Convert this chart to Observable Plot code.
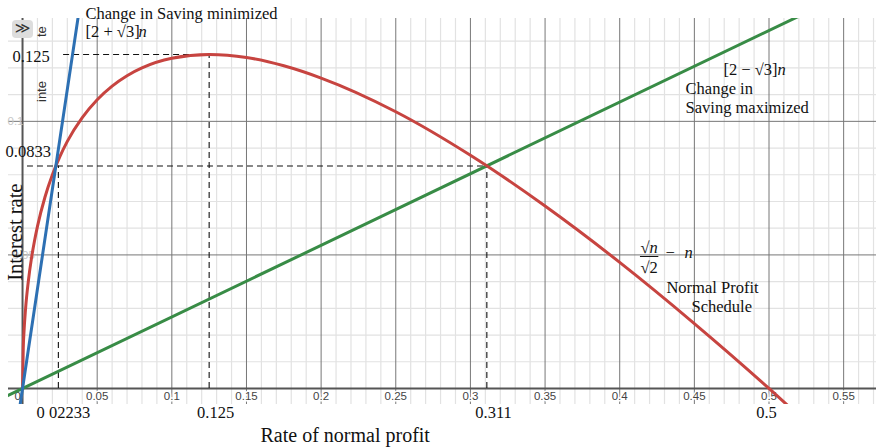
<!DOCTYPE html>
<html>
<head>
<meta charset="utf-8">
<script src="https://cdn.jsdelivr.net/npm/d3@7"></script>
<script src="https://cdn.jsdelivr.net/npm/@observablehq/plot@0.6"></script>
<style>
  html, body { margin: 0; padding: 0; background: white; }
  #wrap { position: relative; width: 876px; height: 447px; }
  .btn { position: absolute; left: 12px; top: 20px; width: 21px; height: 18px; background: #ddd; border-radius: 4px;
         font: 15px "DejaVu Sans", sans-serif; color: #333; text-align: center; line-height: 17px; }
  .rot { position: absolute; font: 13px "Liberation Sans", Arial, sans-serif; color: #333; transform: rotate(-90deg); transform-origin: left top; }
</style>
</head>
<body>
<div id="wrap"></div>
<script>
// Normal profit schedule (red): rate of normal profit n vs interest rate
const profitN = [0, 0.0005, 0.001, 0.002, 0.004, 0.006, 0.008, 0.01, 0.015, 0.02, 0.025, 0.03, 0.04, 0.05, 0.06, 0.07, 0.08, 0.1, 0.125, 0.15, 0.175, 0.2, 0.25, 0.3, 0.35, 0.4, 0.45, 0.5, 0.515];
const profitR = [0, 0.0153, 0.0214, 0.0296, 0.0407, 0.0488, 0.0552, 0.0607, 0.0716, 0.08, 0.0868, 0.0925, 0.1014, 0.1081, 0.1132, 0.1171, 0.12, 0.1236, 0.125, 0.1239, 0.1208, 0.1162, 0.1036, 0.0873, 0.0683, 0.0472, 0.0243, 0, -0.0076];
// Change in saving minimized (blue) [2+√3]n
const minN = [-0.002, 0.04];
const minR = [-0.0075, 0.1493];
// Change in saving maximized (green) [2−√3]n
const maxN = [-0.01, 0.55];
const maxR = [-0.0027, 0.1474];

// grid / ticks
const xMinor = [0.01,0.02,0.03,0.04,0.06,0.07,0.08,0.09,0.11,0.12,0.13,0.14,0.16,0.17,0.18,0.19,0.21,0.22,0.23,0.24,0.26,0.27,0.28,0.29,0.31,0.32,0.33,0.34,0.36,0.37,0.38,0.39,0.41,0.42,0.43,0.44,0.46,0.47,0.48,0.49,0.51,0.52,0.53,0.54,0.56,0.57];
const xMajor = [0.05,0.1,0.15,0.2,0.25,0.3,0.35,0.4,0.45,0.5,0.55];
const xMajorLabels = ["0.05","0.1","0.15","0.2","0.25","0.3","0.35","0.4","0.45","0.5","0.55"];
const yMinor = [0.01,0.02,0.03,0.04,0.06,0.07,0.08,0.09,0.11,0.12,0.13];
const yMajor = [0.05, 0.1];
const yMajorLabels = ["0.05", "0.1"];

// dashed guide lines
const dashH = [{y: 0.125, x1: 0.0275, x2: 0.1275}, {y: 0.0833, x1: 0.0033, x2: 0.311}];
const dashV = [{x: 0.024, y1: 0, y2: 0.0833}, {x: 0.125, y1: 0, y2: 0.125}, {x: 0.311, y1: 0, y2: 0.0833}];

// serif annotations
const notes = [
  {x: 0.0422, y: 0.1385, t: "Change in Saving minimized"},
  {x: 0.0422, y: 0.1314, t: "[2 + √3]"},
  {x: -0.0067, y: 0.1224, t: "0.125"},
  {x: -0.0114, y: 0.0865, t: "0.0833"},
  {x: 0.4695, y: 0.1172, t: "[2 − √3]"},
  {x: 0.4441, y: 0.1104, t: "Change in"},
  {x: 0.4441, y: 0.1033, t: "Saving maximized"},
  {x: 0.4313, y: 0.0356, t: "Normal Profit"},
  {x: 0.4481, y: 0.0285, t: "Schedule"},
  {x: 0.4139, y: 0.0431, t: "√2"},
  {x: 0.4306, y: 0.0490, t: "−"},
  {x: 0.0094, y: -0.0112, t: "0 02233"}
];
const italicN = [
  {x: 0.0777, y: 0.1314, t: "n"},
  {x: 0.5057, y: 0.1172, t: "n"},
  {x: 0.4434, y: 0.0490, t: "n"},
  {x: 0.4139, y: 0.0507, t: "√n"}
];
const centered = [
  {x: 0.1293, y: -0.0112, t: "0.125"},
  {x: 0.3155, y: -0.0112, t: "0.311"},
  {x: 0.4983, y: -0.0112, t: "0.5"}
];
const fracBar = [{y: 0.0494, x1: 0.4139, x2: 0.4262}];

const red = "#c74440", blue = "#2d70b3", green = "#388c46";
const serif = "Liberation Serif, Times New Roman, serif";

const profit = profitN.map((n, i) => ({n, r: profitR[i]}));
const minLine = minN.map((n, i) => ({n, r: minR[i]}));
const maxLine = maxN.map((n, i) => ({n, r: maxR[i]}));

const chart = Plot.plot({
  width: 876, height: 447,
  marginLeft: 8, marginRight: 0, marginTop: 18, marginBottom: 43,
  x: {domain: [-0.0094, 0.572], axis: null},
  y: {domain: [-0.006, 0.1385], axis: null},
  style: {background: "white", fontFamily: serif, overflow: "visible"},
  marks: [
    Plot.ruleX(xMinor, {x: d => d, stroke: "#e2e2e2", strokeWidth: 1.2}),
    Plot.ruleY(yMinor, {y: d => d, stroke: "#e2e2e2", strokeWidth: 1.2}),
    Plot.ruleX(xMajor, {x: d => d, stroke: "#777", strokeWidth: 1}),
    Plot.ruleY(yMajor, {y: d => d, stroke: "#777", strokeWidth: 1}),
    Plot.ruleX([0], {stroke: "#555", strokeWidth: 2}),
    Plot.ruleY([0], {stroke: "#555", strokeWidth: 2}),
    // desmos tick labels
    Plot.text(xMajor, {x: d => d, y: -0.0045, text: (d, i) => xMajorLabels[i], lineAnchor: "bottom",
      fontFamily: "Liberation Sans, Arial, sans-serif", fontSize: 11.5, fill: "#444", stroke: "white", strokeWidth: 3}),
    Plot.text([0], {x: -0.0033, y: -0.0045, text: () => "0", lineAnchor: "bottom",
      fontFamily: "Liberation Sans, Arial, sans-serif", fontSize: 11.5, fill: "#444", stroke: "white", strokeWidth: 3}),
    Plot.text(yMajor, {x: d => d === 0.1 ? -0.0047 : 0.0007, y: d => d, text: (d, i) => yMajorLabels[i],
      fontFamily: "Liberation Sans, Arial, sans-serif", fontSize: 11.5, fill: "#c8c8c8"}),
    // dashed guides
    Plot.ruleY(dashH, {y: "y", x1: "x1", x2: "x2", stroke: "#111", strokeWidth: 1.1, strokeDasharray: "6,4"}),
    Plot.ruleX(dashV, {x: "x", y1: "y1", y2: "y2", stroke: "#111", strokeWidth: 1.1, strokeDasharray: "6,4"}),
    // curves
    Plot.line(maxLine, {x: "n", y: "r", stroke: green, strokeWidth: 3, clip: true}),
    Plot.line(profit, {x: "n", y: "r", stroke: red, strokeWidth: 3, curve: "monotone-x", clip: true}),
    Plot.line(minLine, {x: "n", y: "r", stroke: blue, strokeWidth: 3, clip: true}),
    // annotations
    Plot.text(notes, {x: "x", y: "y", text: "t", textAnchor: "start", lineAnchor: "bottom", fontSize: 16.5, fill: "#111"}),
    Plot.text(italicN, {x: "x", y: "y", text: "t", textAnchor: "start", lineAnchor: "bottom", fontSize: 16.5, fontStyle: "italic", fill: "#111"}),
    Plot.ruleY(fracBar, {y: "y", x1: "x1", x2: "x2", stroke: "#111", strokeWidth: 1}),
    Plot.text(centered, {x: "x", y: "y", text: "t", lineAnchor: "bottom", fontSize: 16.5, fill: "#111"}),
    Plot.text(["Rate of normal profit"], {x: 0.1594, y: -0.0202, text: d => d, textAnchor: "start", lineAnchor: "bottom", fontSize: 20, fill: "#111"}),
    Plot.text(["Interest rate"], {x: -0.0045, y: 0.0585, text: d => d, rotate: -90, fontSize: 20.5, fill: "#111"})
  ]
});
const wrap = document.getElementById("wrap");
wrap.appendChild(chart);
const b = document.createElement("div"); b.className = "btn"; b.textContent = "≫"; wrap.appendChild(b);
const t1 = document.createElement("div"); t1.className = "rot"; t1.style.left = "34px"; t1.style.top = "37px"; t1.textContent = "te"; wrap.appendChild(t1);
const t2 = document.createElement("div"); t2.className = "rot"; t2.style.left = "34px"; t2.style.top = "102px"; t2.textContent = "inte"; wrap.appendChild(t2);
</script>
</body>
</html>
